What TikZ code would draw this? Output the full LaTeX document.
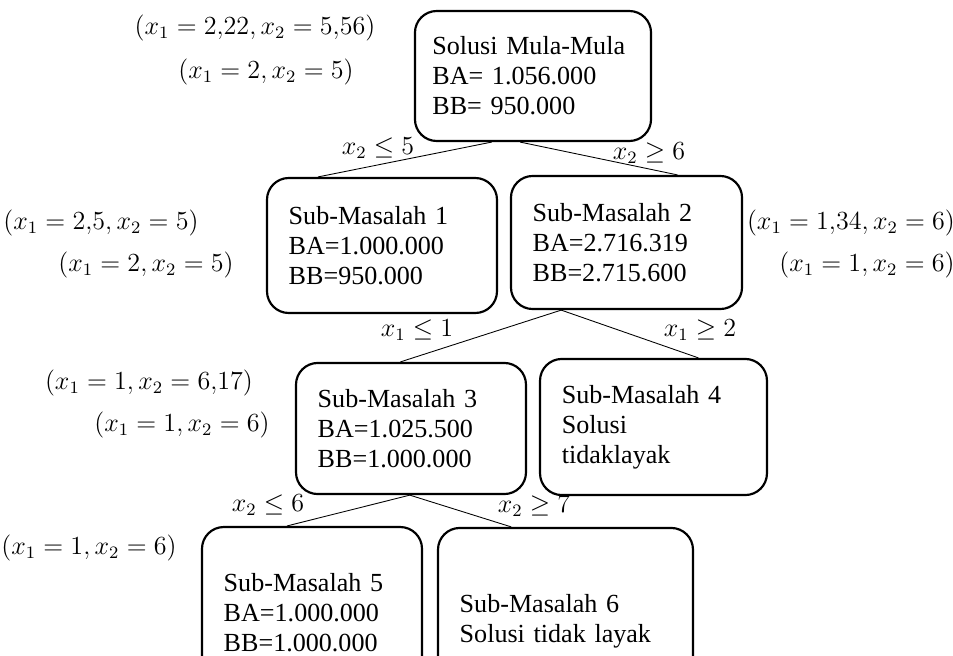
\documentclass[tikz,border=0pt]{standalone}
\usepackage{fontspec}
\setmainfont{Liberation Serif}

\begin{document}
\begin{tikzpicture}[x=0.46pt,y=-0.46pt,font=\fontsize{12}{13.8}\selectfont,
    box/.style 2 args={draw, line width=1pt, rounded corners=10pt, align=left,
        inner xsep=10pt, text width=#1, minimum height=#2},
    val/.style={font=\fontsize{11.5}{13}\selectfont}]
            \useasboundingbox (0,0) rectangle (953,655);
            \clip (0,0) rectangle (953,655);

            % simpul pohon
            \node[box={92.6pt}{59.8pt}, inner xsep=8pt] (R) at (533,76) {Solusi Mula-Mula\\BA= 1.056.000\\BB= 950.000};
            \node[box={85.8pt}{62.1pt}] (S1) at (382,245.5) {Sub-Masalah 1\\BA=1.000.000\\BB=950.000};
            \node[box={86.3pt}{61.2pt}] (S2) at (626.5,242.5) {Sub-Masalah 2\\BA=2.716.319\\BB=2.715.600};
            \node[box={85.8pt}{60.3pt}] (S3) at (411,428.5) {Sub-Masalah 3\\BA=1.025.500\\BB=1.000.000};
            \node[box={84.4pt}{62.6pt}] (S4) at (653.5,427) {Sub-Masalah 4\\Solusi\\tidaklayak};
            \node[box={81.2pt}{79.1pt}] (S5) at (312,613) {Sub-Masalah 5\\BA=1.000.000\\BB=1.000.000};
            \node[box={97.3pt}{85.6pt}] (S6) at (565.5,621) {Sub-Masalah 6\\Solusi tidak layak};

            % cabang
            \path (R.238) edge (S1.133);
            \path (R.259) edge (S2.53);
            \path (S2.226) edge (S3.99.5);
            \path (S2.226) edge (S4.57);
            \path (S3.269) edge (S5.106);
            \path (S3.269) edge (S6.120);

            \node[val] (C1) at (378,148) {$x_2 \le 5$};
            \node[val] (C2) at (649,153) {$x_2 \ge 6$};
            \node[val] (C3) at (417,330) {$x_1 \le 1$};
            \node[val] (C4) at (700,330) {$x_1 \ge 2$};
            \node[val] (C5) at (268,505) {$x_2 \le 6$};
            \node[val] (C6) at (534,506) {$x_2 \ge 7$};

            % nilai x di samping simpul
            \node[val] (RA) at (255,28) {$(x_1 = 2{,}22, x_2 = 5{,}56)$};
            \node[val] (RB) at (266,72) {$(x_1 = 2, x_2 = 5)$};
            \node[val] (S1A) at (101,223) {$(x_1 = 2{,}5, x_2 = 5)$};
            \node[val] (S1B) at (146,265) {$(x_1 = 2, x_2 = 5)$};
            \node[val] (S2A) at (851,223) {$(x_1 = 1{,}34, x_2 = 6)$};
            \node[val] (S2B) at (867,265) {$(x_1 = 1, x_2 = 6)$};
            \node[val] (S3A) at (149,383) {$(x_1 = 1, x_2 = 6{,}17)$};
            \node[val] (S3B) at (182,425) {$(x_1 = 1, x_2 = 6)$};
            \node[val] (S5A) at (89,548) {$(x_1 = 1, x_2 = 6)$};

        \end{tikzpicture}
\end{document}
